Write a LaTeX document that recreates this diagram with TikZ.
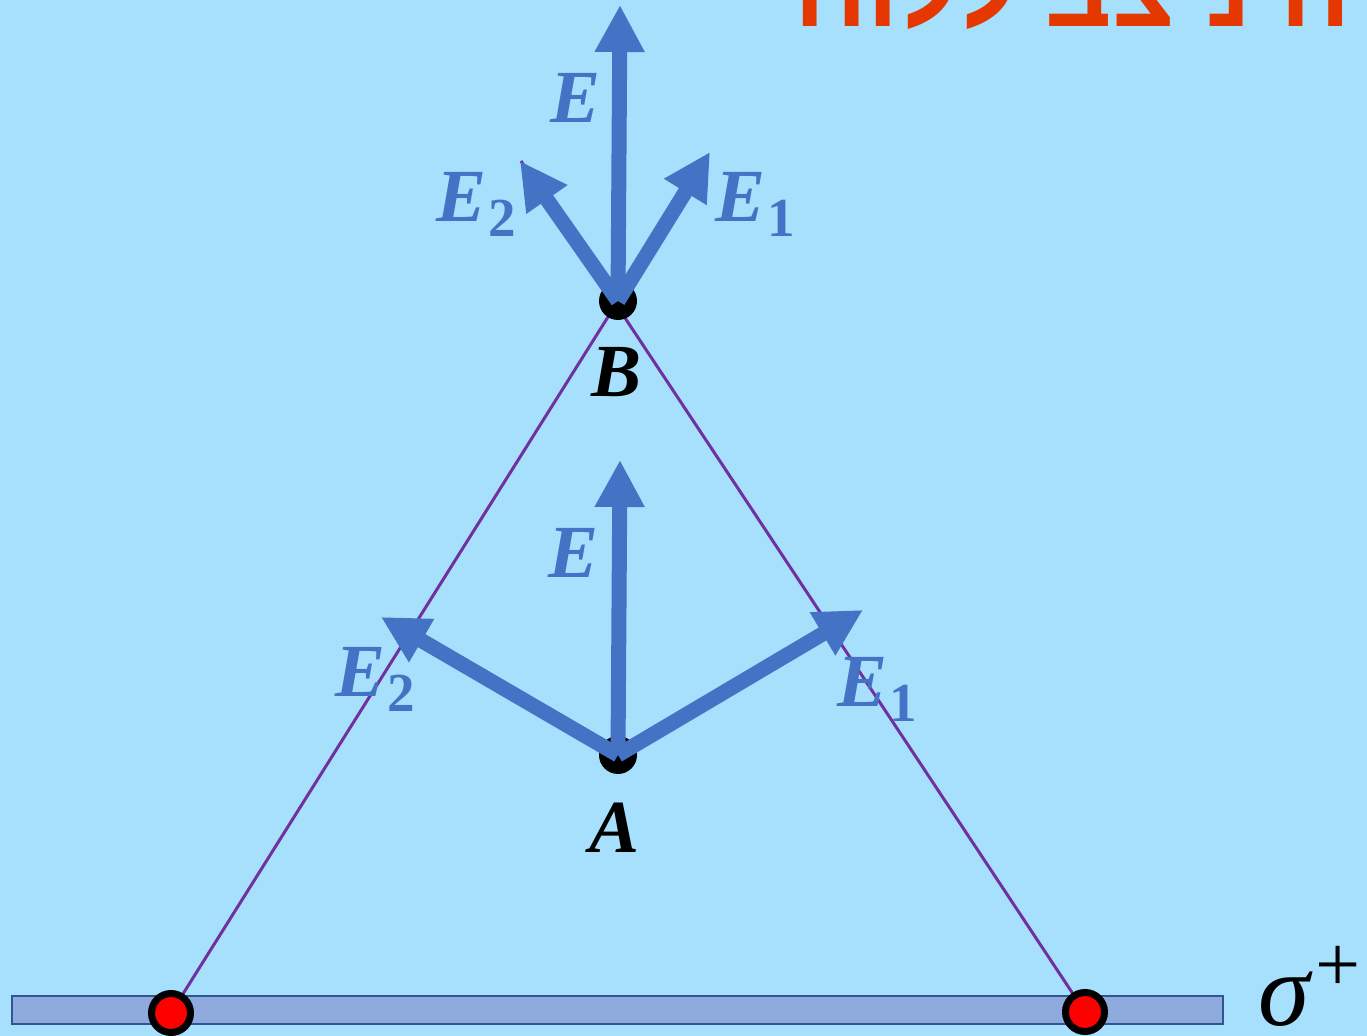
\documentclass[tikz,border=0pt]{standalone}
\usepackage{fontspec}
\setmainfont{Liberation Serif}
\newfontfamily\hebfont[Script=Hebrew]{Liberation Sans}
\usetikzlibrary{arrows.meta}
\TeXXeTstate=1
\definecolor{bg}{RGB}{166,224,253}
\definecolor{vblue}{RGB}{68,114,196}
\definecolor{lpurple}{RGB}{112,48,160}
\definecolor{plfill}{RGB}{143,170,220}
\definecolor{pledge}{RGB}{47,85,151}
\definecolor{titlecol}{RGB}{229,56,0}
\newcommand\lblfont{\fontsize{37.5pt}{40pt}\selectfont\bfseries\itshape}
\newcommand\subfnt{\fontsize{27.5pt}{30pt}\selectfont\bfseries\upshape}
\newcommand\Esub[1]{{\lblfont E}\kern1pt\raisebox{-7.5pt}{\subfnt #1}}
\begin{document}
\begin{tikzpicture}[x=0.5pt,y=-0.5pt,
  vec/.style={vblue, line width=7.5pt, -{Triangle[length=23.5pt,width=23.5pt]}},
  fieldline/.style={lpurple, line width=1.5pt},
  pointdot/.style={circle, fill=black, minimum size=19pt, inner sep=0},
  chargedot/.style={circle, fill=red, draw=black, line width=3.5pt, minimum size=19.5pt, inner sep=0},
  vlabel/.style={anchor=base west, inner sep=0, text=vblue},
  plabel/.style={anchor=base west, inner sep=0, text=black}
]
\fill[bg] (0,0) rectangle (1367,1036);
\useasboundingbox (0,0) rectangle (1367,1036);

% title (only its lower part is visible)
\node[anchor=base west, inner sep=0, text=titlecol, font=\hebfont\bfseries\fontsize{52pt}{52pt}\selectfont] (title) at (794,27) {\beginR השדה ניצב ללוח\endR};

% plate
\draw[pledge, fill=plfill, line width=1pt] (12,996) rectangle (1223,1024);
\node[anchor=base west, inner sep=0, font=\fontsize{52pt}{54pt}\selectfont\itshape] (sigma) at (1258,1026) {σ\kern3pt\raisebox{17pt}{\fontsize{40pt}{42pt}\selectfont\upshape +}};

% positions
\coordinate (Bp) at (618,301);
\coordinate (Ap) at (618,755);
\coordinate (Lq) at (171,1013);
\coordinate (Rq) at (1085,1012);
\coordinate (Rend) at (521,161);

% field lines
\draw[fieldline] (Lq) -- (Bp);
\draw[fieldline] (Rq) -- (Rend);

% dots
\node[pointdot] (B) at (Bp) {};
\node[pointdot] (A) at (Ap) {};
\node[chargedot] (L) at (Lq) {};
\node[chargedot] (R) at (Rq) {};

% arrow tips
\coordinate (BE) at (620,5);
\coordinate (BE2) at (520,161);
\coordinate (BE1) at (710,152);
\coordinate (AE) at (620,460);
\coordinate (AE2) at (381,617);
\coordinate (AE1) at (863,610);

\draw[vec] (B.center) -- (BE);
\draw[vec] (B.center) -- (BE2);
\draw[vec] (B.center) -- (BE1);
\draw[vec] (A.center) -- (AE);
\draw[vec] (A.center) -- (AE2);
\draw[vec] (A.center) -- (AE1);

% labels
\node[vlabel] (lBE) at (550,123) {{\lblfont E}};
\node[vlabel] (lBE2) at (436,222) {\Esub{2}};
\node[vlabel] (lBE1) at (715,222) {\Esub{1}};
\node[vlabel] (lAE) at (548,578) {{\lblfont E}};
\node[vlabel] (lAE2) at (335,697) {\Esub{2}};
\node[vlabel] (lAE1) at (837,707) {\Esub{1}};
\node[plabel] (lB) at (591,397) {{\lblfont B}};
\node[plabel] (lA) at (589,853) {{\lblfont A}};
\end{tikzpicture}
\end{document}
